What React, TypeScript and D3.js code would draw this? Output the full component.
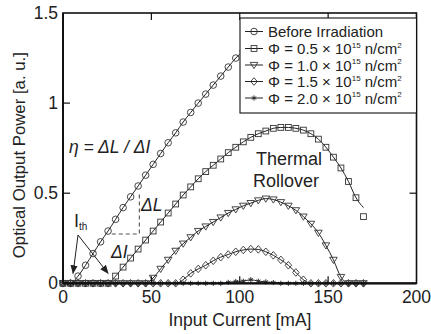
import React from "react";
import * as d3 from "d3";

const W = 431;
const H = 334;

// Input current samples [mA]
const current = [
  0, 4.25, 8.5, 12.75, 17, 21.25, 25.5, 29.75, 34, 38.25, 42.5, 46.75, 51, 55.25, 59.5, 63.75, 68, 72.25,
  76.5, 80.75, 85, 89.25, 93.5, 97.75, 102, 106.25, 110.5, 114.75, 119, 123.25, 127.5, 131.75, 136,
  140.25, 144.5, 148.75, 153, 157.25, 161.5, 165.75, 170,
];

const before = [
  0, 0, 0.04, 0.1, 0.165, 0.23, 0.29, 0.355, 0.42, 0.48, 0.54, 0.6, 0.66, 0.72, 0.78, 0.835, 0.895,
  0.948, 1.0, 1.05, 1.1, 1.15, 1.2, 1.25, 1.29,
];
const phi05 = [
  0, 0, 0, 0, 0, 0, 0, 0.04, 0.09, 0.14, 0.19, 0.24, 0.29, 0.34, 0.39, 0.44, 0.49, 0.535, 0.58, 0.62,
  0.655, 0.69, 0.725, 0.755, 0.785, 0.81, 0.83, 0.845, 0.86, 0.865, 0.865, 0.86, 0.85, 0.83, 0.8,
  0.755, 0.7, 0.64, 0.565, 0.475, 0.37,
];
const phi05FitEnd = 0.42;
const phi10 = [
  0, 0, 0, 0, 0, 0, 0, 0, 0, 0, 0, 0, 0.03, 0.08, 0.13, 0.18, 0.22, 0.255, 0.29, 0.315, 0.34, 0.365,
  0.39, 0.41, 0.43, 0.445, 0.46, 0.47, 0.465, 0.45, 0.43, 0.405, 0.37, 0.33, 0.28, 0.21, 0.13, 0.035,
  0, 0, 0,
];
const phi15 = [
  0, 0, 0, 0, 0, 0, 0, 0, 0, 0, 0, 0, 0, 0, 0, 0, 0.02, 0.055, 0.08, 0.1, 0.125, 0.145, 0.16, 0.175,
  0.185, 0.19, 0.188, 0.175, 0.155, 0.13, 0.1, 0.06, 0.02, 0, 0, 0, 0, 0, 0, 0, 0,
];
const phi20 = [
  0, 0, 0, 0, 0, 0, 0, 0, 0, 0, 0, 0, 0, 0, 0, 0, 0, 0, 0, 0, 0, 0, 0.005, 0.01, 0.012, 0.02, 0.012,
  0.008, 0.004, 0, 0, 0, 0, 0, 0, 0, 0, 0, 0, 0, 0,
];

const xTicks = [0, 50, 100, 150, 200];
const yTicks = [0, 0.5, 1, 1.5];
const yTickLabels = ["0", "0.5", "1", "1.5"];
const fluences = ["0.5", "1.0", "1.5", "2.0"];

// annotation anchor points (data units)
const ithStart = [8.5, 0.268];
const ithEnds = [
  [5.7, 0.055],
  [25.5, 0.055],
];
const dIStart = [27.6, 0.274];
const dCorner = [43.2, 0.274];
const dLTop = [43.2, 0.5];

const FONT = "'Liberation Sans', Arial, Helvetica, sans-serif";
const INK = "#222";
const MK = "#333";

type Shape = "circle" | "square" | "tri" | "diamond" | "star";

function Marker({ shape, cx, cy }: { shape: Shape; cx: number; cy: number }) {
  const common = { fill: "none", stroke: MK, strokeWidth: 0.9 };
  if (shape === "circle") return <circle cx={cx} cy={cy} r={3.3} {...common} />;
  if (shape === "square") return <rect x={cx - 2.9} y={cy - 2.9} width={5.8} height={5.8} {...common} />;
  if (shape === "tri")
    return <path d={`M${cx - 3.8},${cy - 2.6}L${cx + 3.8},${cy - 2.6}L${cx},${cy + 3.6}Z`} {...common} />;
  if (shape === "diamond")
    return <path d={`M${cx},${cy - 3.8}L${cx + 3.3},${cy}L${cx},${cy + 3.8}L${cx - 3.3},${cy}Z`} {...common} />;
  // star
  const r = 2.6;
  const seg = [0, 60, 120].map((a) => {
    const t = (a * Math.PI) / 180 + Math.PI / 2;
    return `M${cx - r * Math.cos(t)},${cy - r * Math.sin(t)}L${cx + r * Math.cos(t)},${cy + r * Math.sin(t)}`;
  });
  return (
    <g>
      <path d={seg.join("")} stroke={MK} strokeWidth={1} fill="none" />
      <circle cx={cx} cy={cy} r={1.1} fill={MK} />
    </g>
  );
}

export default function App() {
  const x = d3.scaleLinear().domain([0, 200]).range([63, 416.5]);
  const y = d3.scaleLinear().domain([0, 1.5]).range([283.3, 13]);
  const [x0, x1] = x.range();
  const [y0, y1] = y.range();

  const line = d3
    .line<[number, number]>()
    .x((d) => x(d[0]))
    .y((d) => y(d[1]))
    .curve(d3.curveMonotoneX);

  const toPts = (vals: number[]) => vals.map((v, i) => [current[i], v] as [number, number]);

  const series: { vals: number[]; lineVals: number[]; shape: Shape }[] = [
    { vals: phi20, lineVals: phi20, shape: "star" },
    { vals: phi15, lineVals: phi15, shape: "diamond" },
    { vals: phi10, lineVals: phi10, shape: "tri" },
    { vals: phi05, lineVals: [...phi05.slice(0, -1), phi05FitEnd], shape: "square" },
    { vals: before, lineVals: before, shape: "circle" },
  ];

  const tick = 7;
  const legendShapes: Shape[] = ["circle", "square", "tri", "diamond", "star"];
  const legendY = [31.5, 48.5, 65, 81.5, 98];

  const P = (p: number[]) => [x(p[0]), y(p[1])];
  const s = P(ithStart);

  return (
    <div style={{ position: "absolute", left: 0, top: 0 }}>
      <svg width={W} height={H} style={{ display: "block", background: "#fff" }} fontFamily={FONT}>
        <defs>
          <marker
            id="ah"
            viewBox="0 0 10 10"
            refX="9"
            refY="5"
            markerWidth="9"
            markerHeight="9"
            markerUnits="userSpaceOnUse"
            orient="auto"
          >
            <path d="M0,1L10,5L0,9Z" fill={INK} />
          </marker>
        </defs>

        {/* series lines */}
        {series.map((s, k) => (
          <path key={"l" + k} d={line(toPts(s.lineVals)) || ""} fill="none" stroke={INK} strokeWidth={1} />
        ))}
        {/* markers */}
        {series.map((s, k) => (
          <g key={"m" + k}>
            {s.vals.map((v, i) => (
              <Marker key={i} shape={s.shape} cx={x(current[i])} cy={y(v)} />
            ))}
          </g>
        ))}

        {/* frame */}
        <rect x={x0} y={y1} width={x1 - x0} height={y0 - y1} fill="none" stroke="#111" strokeWidth={1.6} />
        <line x1={x0} x2={x1} y1={y0} y2={y0} stroke="#111" strokeWidth={2.2} />
        <line x1={x0} x2={x0} y1={y0} y2={y1} stroke="#111" strokeWidth={2} />

        {/* ticks */}
        {xTicks.slice(1, -1).map((t) => (
          <g key={"xt" + t}>
            <line x1={x(t)} x2={x(t)} y1={y0} y2={y0 - tick} stroke="#111" strokeWidth={1.2} />
            <line x1={x(t)} x2={x(t)} y1={y1} y2={y1 + tick} stroke="#111" strokeWidth={1.2} />
          </g>
        ))}
        {yTicks.slice(1, -1).map((t) => (
          <g key={"yt" + t}>
            <line x1={x0} x2={x0 + tick} y1={y(t)} y2={y(t)} stroke="#111" strokeWidth={1.2} />
            <line x1={x1} x2={x1 - tick} y1={y(t)} y2={y(t)} stroke="#111" strokeWidth={1.2} />
          </g>
        ))}
        {xTicks.map((t) => (
          <text key={"xl" + t} x={x(t)} y={303} textAnchor="middle" fontSize={17.5} fill={INK}>
            {t}
          </text>
        ))}
        {yTicks.map((t, i) => (
          <text key={"yl" + t} x={58} y={y(t) + 6} textAnchor="end" fontSize={17.5} fill={INK}>
            {yTickLabels[i]}
          </text>
        ))}

        {/* axis titles */}
        <text x={240} y={326} textAnchor="middle" fontSize={17.5} fill={INK}>
          Input Current [mA]
        </text>
        <text
          transform={`translate(25,${(y0 + y1) / 2 + 7}) rotate(-90)`}
          textAnchor="middle"
          fontSize={16.8}
          fill={INK}
        >
          Optical Output Power [a. u.]
        </text>

        {/* annotations */}
        <text x={69} y={153} fontSize={17.5} fontStyle="italic" fill={INK}>
          η = ΔL / ΔI
        </text>
        <path
          d={`M${P(dIStart)}L${P(dCorner)}L${P(dLTop)}`}
          fill="none"
          stroke="#555"
          strokeWidth={1.1}
          strokeDasharray="4,3"
        />
        <text x={141} y={211} fontSize={17.5} fontStyle="italic" fill={INK}>
          ΔL
        </text>
        <text x={111} y={258} fontSize={17.5} fontStyle="italic" fill={INK}>
          ΔI
        </text>
        <text x={74} y={227} fontSize={18} fill={INK}>
          I
          <tspan fontSize={10} dy={3}>
            th
          </tspan>
        </text>
        {ithEnds.map((e, i) => {
          const p = P(e);
          return (
            <line
              key={"ar" + i}
              x1={s[0]}
              y1={s[1]}
              x2={p[0]}
              y2={p[1]}
              stroke={INK}
              strokeWidth={1}
              markerEnd="url(#ah)"
            />
          );
        })}
        <text x={289} y={165} textAnchor="middle" fontSize={18} fill={INK}>
          Thermal
        </text>
        <text x={286} y={187} textAnchor="middle" fontSize={18} fill={INK}>
          Rollover
        </text>

        {/* legend */}
        <rect x={240} y={18} width={x1 - 240} height={95} fill="#fff" stroke="#111" strokeWidth={1.1} />
        {legendShapes.map((sh, i) => (
          <g key={"lg" + i}>
            <line x1={245} x2={263} y1={legendY[i]} y2={legendY[i]} stroke={INK} strokeWidth={1} />
            <Marker shape={sh} cx={254} cy={legendY[i]} />
            {i === 0 ? (
              <text x={268} y={legendY[i] + 5.5} fontSize={15} fill={INK}>
                Before Irradiation
              </text>
            ) : (
              <text x={268} y={legendY[i] + 5.5} fontSize={15} fill={INK}>
                {`Φ = ${fluences[i - 1]} × 10`}
                <tspan fontSize={8} dy={-6.5}>
                  15
                </tspan>
                <tspan dy={6.5}> n/cm</tspan>
                <tspan fontSize={8} dy={-6.5}>
                  2
                </tspan>
              </text>
            )}
          </g>
        ))}
      </svg>
    </div>
  );
}
